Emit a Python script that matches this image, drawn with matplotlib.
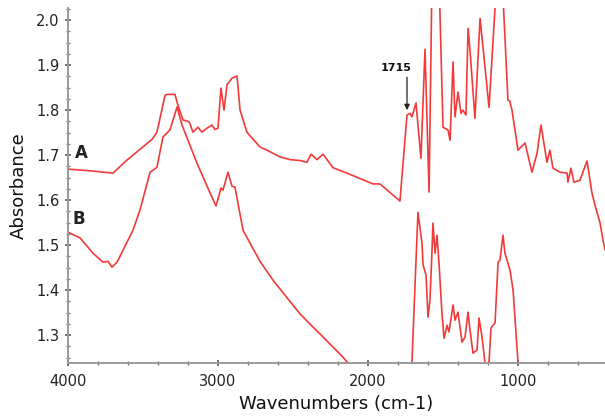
import matplotlib
matplotlib.use("Agg")
import matplotlib.pyplot as plt
from matplotlib.ticker import MultipleLocator

# spectrum A
a_wn = [4000, 3850, 3700, 3607, 3567, 3440, 3407, 3353, 3340, 3300, 3287, 3267,
        3233, 3207, 3190, 3167, 3133, 3107, 3073, 3040, 3020, 3000, 2980, 2960,
        2940, 2907, 2873, 2853, 2807, 2720, 2673, 2587, 2520, 2453, 2407, 2380,
        2340, 2300, 2233, 2140, 1967, 1920, 1787, 1740, 1720, 1707, 1680, 1647,
        1620, 1593, 1573, 1550, 1527, 1500, 1467, 1453, 1433, 1420, 1400, 1380,
        1367, 1347, 1333, 1320, 1287, 1253, 1193, 1140, 1107, 1087, 1067, 1055,
        1040, 1000, 953, 907, 873, 847, 807, 787, 767, 720, 673, 667, 647, 627,
        587, 540, 507, 487, 453, 433, 420]
a_abs = [1.669, 1.665, 1.660, 1.689, 1.700, 1.735, 1.751, 1.833, 1.835, 1.835, 1.835, 1.811,
         1.778, 1.776, 1.773, 1.751, 1.762, 1.751, 1.760, 1.767, 1.757, 1.760, 1.849, 1.800,
         1.856, 1.871, 1.876, 1.800, 1.751, 1.718, 1.711, 1.696, 1.690, 1.688, 1.684, 1.702,
         1.690, 1.702, 1.672, 1.660, 1.636, 1.636, 1.598, 1.789, 1.793, 1.785, 1.816, 1.693,
         1.935, 1.618, 2.100, 2.150, 2.100, 1.762, 1.756, 1.733, 1.907, 1.785, 1.840, 1.793,
         1.800, 1.789, 1.982, 1.933, 1.782, 2.004, 1.806, 2.100, 2.100, 1.962, 1.822, 1.820,
         1.800, 1.711, 1.727, 1.662, 1.704, 1.767, 1.684, 1.711, 1.671, 1.662, 1.660, 1.640, 1.671, 1.640,
         1.644, 1.687, 1.616, 1.589, 1.549, 1.511, 1.490]

# spectrum B
b_wn = [4000, 3920, 3833, 3767, 3733, 3707, 3673, 3633, 3567, 3520, 3453, 3407,
        3367, 3320, 3273, 3240, 3140, 3053, 3013, 2980, 2967, 2933, 2907, 2887,
        2833, 2720, 2633, 2453, 2367, 2300, 2167, 2100, 1900, 1720, 1707, 1687,
        1667, 1640, 1633, 1613, 1600, 1587, 1573, 1567, 1553, 1540, 1527, 1507,
        1493, 1473, 1460, 1433, 1420, 1400, 1373, 1353, 1333, 1320, 1300, 1273,
        1260, 1240, 1220, 1200, 1180, 1153, 1133, 1120, 1100, 1087, 1053, 1033,
        1000, 980, 800, 420]
b_abs = [1.529, 1.516, 1.482, 1.462, 1.464, 1.451, 1.462, 1.489, 1.533, 1.578, 1.662, 1.673,
         1.740, 1.756, 1.807, 1.767, 1.682, 1.616, 1.587, 1.627, 1.622, 1.662, 1.631, 1.629,
         1.533, 1.464, 1.422, 1.347, 1.318, 1.296, 1.251, 1.225, 1.150, 1.150, 1.240, 1.407,
         1.573, 1.504, 1.456, 1.433, 1.340, 1.378, 1.489, 1.549, 1.482, 1.522, 1.462, 1.349,
         1.293, 1.322, 1.307, 1.367, 1.333, 1.351, 1.284, 1.296, 1.351, 1.311, 1.260, 1.267,
         1.338, 1.296, 1.238, 1.200, 1.316, 1.327, 1.462, 1.467, 1.522, 1.482, 1.444, 1.400,
         1.240, 1.150, 1.150, 1.150]

red = '#f23a3a'

fig = plt.figure(figsize=(6.05, 4.16), dpi=100)
ax = fig.add_axes([68 / 605, 1 - 363 / 416, 1 - 68 / 605, (363 - 8) / 416])

ax.plot(a_wn, a_abs, color=red, lw=1.2)
ax.plot(b_wn, b_abs, color=red, lw=1.2)

ax.set_xlim(4000, 420)
ax.set_ylim(1.238, 2.027)

ax.xaxis.set_major_locator(MultipleLocator(1000))
ax.xaxis.set_minor_locator(MultipleLocator(200))
ax.yaxis.set_major_locator(MultipleLocator(0.1))
ax.yaxis.set_minor_locator(MultipleLocator(0.025))
ax.yaxis.set_major_formatter(lambda v, p: f'{v:.1f}')

for s in ['top', 'right']:
    ax.spines[s].set_visible(False)
for s in ['left', 'bottom']:
    ax.spines[s].set_color('#9a9a9a')
    ax.spines[s].set_linewidth(1.4)

ax.tick_params(which='major', length=4, width=1.2, color='#555555',
               labelsize=10.5, labelcolor='#222222', direction='inout')
ax.tick_params(which='minor', length=3, width=1, color='#777777', direction='inout')
ax.tick_params(axis='x', pad=6)
ax.tick_params(axis='y', pad=4)

ax.set_xlabel('Wavenumbers (cm-1)', fontsize=13, color='#111111', labelpad=4)
ax.set_ylabel('Absorbance', fontsize=13, color='#111111', labelpad=6)

ax.text(3913, 1.704, 'A', fontsize=12, fontweight='bold', color='#222222',
        ha='center', va='center')
ax.text(3927, 1.558, 'B', fontsize=12, fontweight='bold', color='#222222',
        ha='center', va='center')
ax.text(1813, 1.893, '1715', fontsize=8, fontweight='bold', color='#111111',
        ha='center', va='center')
ax.annotate('', xy=(1740, 1.800), xytext=(1740, 1.873),
            arrowprops=dict(arrowstyle='-|>', color='#222222', lw=0.9,
                            mutation_scale=8, shrinkA=0, shrinkB=0))

fig.savefig('out.png', dpi=100)
